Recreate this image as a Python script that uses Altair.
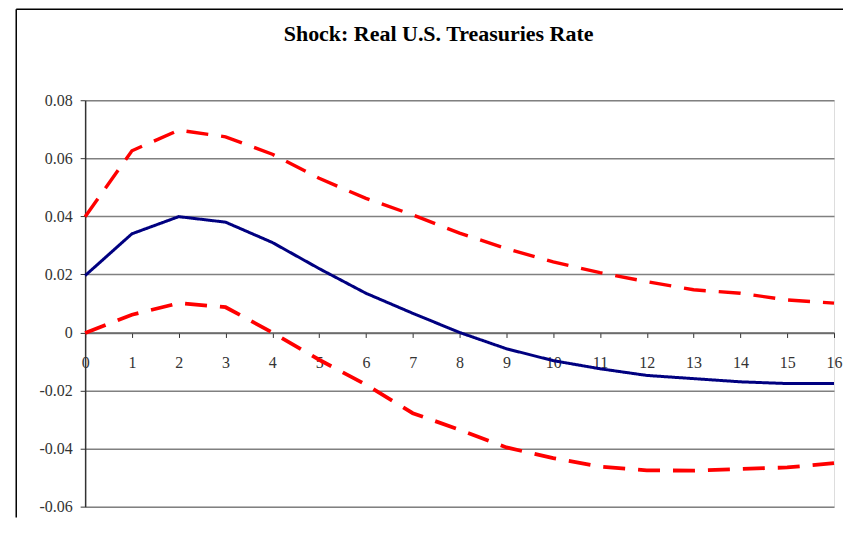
import altair as alt
import pandas as pd

# ---- data ----
periods = list(range(17))
center = [0.0196, 0.0340, 0.0399, 0.0380, 0.0310, 0.0220, 0.0135, 0.0066, 0.0000,
          -0.0056, -0.0097, -0.0125, -0.0148, -0.0159, -0.0170, -0.0176, -0.0176]
upper = [0.0399, 0.0626, 0.0697, 0.0674, 0.0614, 0.0531, 0.0462, 0.0405, 0.0342,
         0.0289, 0.0243, 0.0206, 0.0175, 0.0147, 0.0135, 0.0112, 0.0101]
lower = [-0.0002, 0.0061, 0.0101, 0.0087, 0.0000, -0.0094, -0.0180, -0.0278, -0.0335,
         -0.0396, -0.0433, -0.0462, -0.0475, -0.0476, -0.0470, -0.0465, -0.0450]
y_ticks = [-0.06, -0.04, -0.02, 0, 0.02, 0.04, 0.06, 0.08]
x_ticks = list(range(17))
series_names = ["Center", "Upper", "Lower"]
title_text = "Shock: Real U.S. Treasuries Rate"

rows = []
for name, vals in zip(series_names, [center, upper, lower]):
    for t, v in zip(periods, vals):
        rows.append({"t": t, "value": v, "series": name})
df = pd.DataFrame(rows)

W, H = 750, 407
zero_from_bottom = H * (0.06 / 0.14)
FONT = "Liberation Serif"

lines = alt.Chart(df).mark_line(strokeCap="butt", strokeJoin="miter").encode(
    x=alt.X("t:Q",
            scale=alt.Scale(domain=[0, 16], nice=False, zero=False),
            axis=alt.Axis(values=x_ticks, title=None, offset=-zero_from_bottom,
                          grid=False, tickSize=5, tickColor="#333333", tickWidth=1,
                          domainColor="#666666", domainWidth=1.5,
                          labelPadding=17, labelFont=FONT, labelFontSize=16,
                          labelColor="#333333", labelFlush=False, format="d")),
    y=alt.Y("value:Q",
            scale=alt.Scale(domain=[-0.06, 0.08], nice=False, zero=False),
            axis=alt.Axis(values=y_ticks, title=None, grid=True,
                          gridColor="#808080", gridWidth=1.5,
                          tickSize=5, tickColor="#333333", tickWidth=1,
                          domainColor="#333333", domainWidth=1.5,
                          labelPadding=8, labelFont=FONT, labelFontSize=16,
                          labelColor="#333333",
                          labelExpr="datum.value == 0 ? '0' : (datum.value < 0 ? '-' : '') + format(abs(datum.value), '.2f')")),
    color=alt.Color("series:N",
                    scale=alt.Scale(domain=series_names, range=["#000080", "#ff0000", "#ff0000"]),
                    legend=None),
    strokeDash=alt.StrokeDash("series:N",
                              scale=alt.Scale(domain=series_names, range=[[1, 0], [22, 13], [22, 13]]),
                              legend=None),
    strokeWidth=alt.StrokeWidth("series:N",
                                scale=alt.Scale(domain=series_names, range=[3, 3.8, 3.8]),
                                legend=None),
    detail="series:N",
)

one = pd.DataFrame({"k": [0]})
frame_left = alt.Chart(one).mark_rule(color="black", strokeWidth=1.5).encode(
    x=alt.value(-69), y=alt.value(-91.25), y2=alt.value(418))
frame_top = alt.Chart(one).mark_rule(color="black", strokeWidth=1.5).encode(
    x=alt.value(-69), x2=alt.value(759), y=alt.value(-91.25))

chart = alt.layer(frame_left, frame_top, lines).properties(
    width=W, height=H,
    title=alt.TitleParams(title_text, font=FONT, fontSize=22, fontWeight="bold",
                          color="black", anchor="middle", offset=-38, dx=-21),
    padding={"left": 7.25, "top": 0, "right": 0, "bottom": 0},
).configure_view(stroke="#8c8c8c", strokeWidth=2).configure(background="white")

chart.save("out.html", embed_options={"renderer": "svg", "actions": False})
